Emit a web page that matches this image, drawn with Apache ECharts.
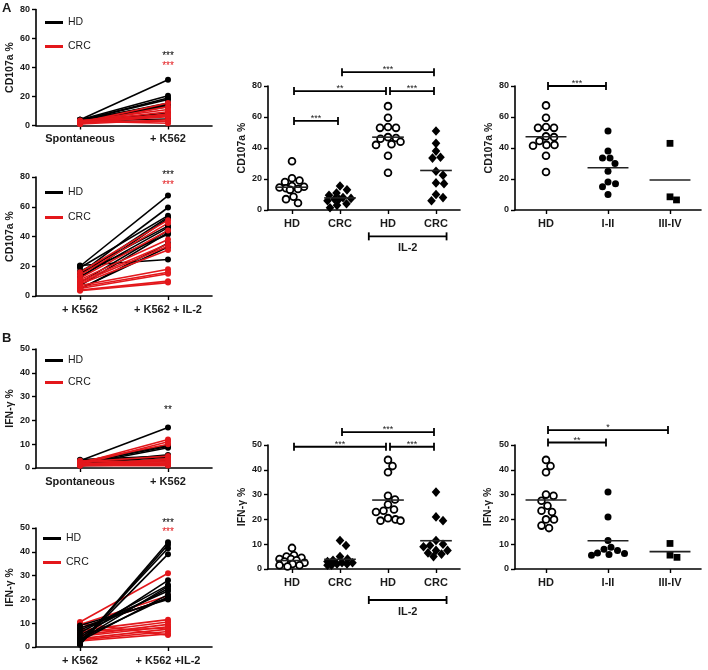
<!DOCTYPE html>
<html><head><meta charset="utf-8">
<script src="https://cdn.jsdelivr.net/npm/echarts@6/dist/echarts.min.js"></script>
<style>html,body{margin:0;padding:0;background:#fff}#c{width:708px;height:670px}</style>
</head><body><div id="c"></div>
<script>
// ---------- categories ----------
const a1Cats = ['Spontaneous', '+ K562'];
const a2Cats = ['+ K562', '+ K562 + IL-2'];
const b1Cats = ['Spontaneous', '+ K562'];
const b2Cats = ['+ K562', '+ K562 +IL-2'];
const midCats = ['HD', 'CRC', 'HD', 'CRC'];
const stageCats = ['HD', 'I-II', 'III-IV'];
const seriesNames = ['HD', 'CRC'];

// ---------- A1: CD107a spontaneous -> K562 (paired) ----------
const a1HdSpont = [4, 4, 3.5, 3.5, 3, 3, 4, 3, 2.5, 3, 3.5, 4, 3];
const a1HdK562  = [31.5, 20.5, 19, 18, 15.5, 15, 14.5, 14, 13.5, 13, 8.5, 7, 4.5];
const a1CrcSpont = [2, 1.5, 3, 2.5, 1, 2, 3.5, 1.5, 2, 1, 2.5, 3];
const a1CrcK562  = [15.5, 13, 11, 9.5, 8, 7.5, 7, 7, 6, 4, 3, 1.5];
const a1Stars = [[1, 47.8], [1, 40.9]];
const a1StarLabels = ['***', '***'];

// ---------- A2: CD107a K562 -> K562 + IL-2 (paired) ----------
const a2HdLeft  = [20, 15, 19, 14, 16.5, 13, 9, 7, 4.5, 20.5, 12, 5, 15.5];
const a2HdRight = [67.5, 59.5, 54, 53, 47, 46, 44, 42.5, 35.5, 24.5, 52, 33, 41.5];
const a2CrcLeft  = [16, 14, 12, 11, 10, 9, 8, 7, 6, 5, 4, 3.5];
const a2CrcRight = [51, 49, 44, 38, 35, 33.5, 31, 18, 16, 15, 10, 9];
const a2Stars = [[1, 81.3], [1, 74.6]];
const a2StarLabels = ['***', '***'];

// ---------- B1: IFN-g spontaneous -> K562 (paired) ----------
const b1HdSpont = [3, 2.5, 2, 1.5, 2, 3.5, 1, 2, 2.5, 1.5, 3, 1, 2];
const b1HdK562  = [17, 9.5, 9, 8.5, 5.5, 5, 4, 4.5, 3, 2, 1.5, 1.5, 5];
const b1CrcSpont = [2, 1.5, 2.5, 1, 3, 2, 1.5, 1, 2.5, 1.5, 2, 1];
const b1CrcK562  = [12, 11, 10, 3, 2.5, 2, 1.5, 4, 5, 3.5, 2, 1];
const b1Stars = [[1, 24.3]];
const b1StarLabels = ['**'];

// ---------- B2: IFN-g K562 -> K562 + IL-2 (paired) ----------
const b2HdLeft  = [1, 2, 1.5, 4, 3, 5, 7, 9, 2.5, 6, 8, 3.5, 1];
const b2HdRight = [44, 41.5, 39, 28, 25.5, 24.5, 23.5, 20, 22, 26, 20.5, 21, 43];
const b2CrcLeft  = [10.5, 9.5, 8, 7, 6, 5, 4.5, 3.5, 3, 2.5, 10, 6.5];
const b2CrcRight = [31, 21.5, 20.5, 11.5, 10.5, 9.5, 8.5, 7.5, 6.5, 5.5, 5, 8];
const b2Stars = [[1, 52], [1, 48.3]];
const b2StarLabels = ['***', '***'];

// ---------- A3: CD107a HD / CRC, with and without IL-2 ----------
const a3Hd     = [31.5, 20.5, 19, 18, 15.5, 15, 14.5, 14, 13.5, 13, 8.5, 7, 4.5];
const a3Crc    = [15.5, 13, 11, 9.5, 8, 7.5, 7, 7, 6, 4, 3, 1.5];
const a3HdIl2  = [67, 59.5, 53.5, 53, 53, 47, 46.5, 46, 44, 42.5, 42, 35, 24];
const a3CrcIl2 = [51, 43, 38, 34, 33.5, 25, 22.5, 17.5, 17, 10, 8, 6];
const a3Means  = [14.7, 7.8, 47, 25.5];
const a3Brackets = [[0, 1, 57.5], [0, 2, 76.7], [2, 3, 76.7], [1, 3, 88.9]];
const a3BracketLabels = ['***', '**', '***', '***'];
const a3Group = [[2, 3, -17]];
const a3GroupLabels = ['IL-2'];

// ---------- A4: CD107a by stage ----------
const a4Hd    = [67.5, 59.5, 53.5, 53, 53, 47.5, 47, 44.5, 42, 42, 41.5, 35, 24.5];
const a4Early = [51, 38, 33.5, 33.5, 30, 25, 18, 17, 15, 10];
const a4Late  = [43, 6.5, 8.5];
const a4Means = [47.3, 27.3, 19.4];
const a4Brackets = [[0, 1, 80]];
const a4BracketLabels = ['***'];

// ---------- B3: IFN-g HD / CRC, with and without IL-2 ----------
const b3Hd     = [8.5, 5.5, 5, 4.5, 4, 4, 3.5, 3, 2.5, 2, 1.5, 1.5, 1];
const b3Crc    = [11.5, 9.5, 5, 4, 3.5, 3, 2.5, 2.5, 2, 2, 1.5, 1.5];
const b3HdIl2  = [44, 41.5, 39, 29.5, 28, 26, 24, 23.5, 23, 20.5, 20, 19.5, 19.5];
const b3CrcIl2 = [31, 21, 19.5, 11.5, 10, 9.5, 9, 7.5, 7.5, 6.5, 6, 5];
const b3Means  = [3.4, 3.9, 27.8, 11.4];
const b3Brackets = [[0, 2, 49.3], [2, 3, 49.3], [1, 3, 55.2]];
const b3BracketLabels = ['***', '***', '***'];
const b3Group = [[2, 3, -12.5]];
const b3GroupLabels = ['IL-2'];

// ---------- B4: IFN-g by stage ----------
const b4Hd    = [44, 41.5, 39, 30, 29.5, 27.5, 25.5, 23.5, 23, 20, 20, 17.5, 16.5];
const b4Early = [31, 21, 11.5, 8.8, 8, 7.5, 6.5, 6.3, 5.8, 5.5];
const b4Late  = [10.3, 5.6, 4.7];
const b4Means = [27.8, 11.4, 7];
const b4Brackets = [[0, 2, 56], [0, 1, 51]];
const b4BracketLabels = ['*', '**'];

// ================= rendering =================
const FONT = '"Liberation Sans", Arial, sans-serif';
const BLACK = '#000';
const RED = '#e3171b';
const TXT = '#1a1a1a';

const grids = [
  {left: 36, top: 9.5, width: 176, height: 116},   // 0 A1
  {left: 36, top: 177, width: 176, height: 119},   // 1 A2
  {left: 36, top: 349, width: 176, height: 119},   // 2 B1
  {left: 36, top: 528, width: 176, height: 119},   // 3 B2
  {left: 268, top: 86, width: 192, height: 124},   // 4 A3
  {left: 515, top: 86, width: 186, height: 124},   // 5 A4
  {left: 268, top: 445, width: 192, height: 124},  // 6 B3
  {left: 515, top: 445, width: 186, height: 124}   // 7 B4
].map(g => Object.assign({outerBoundsMode: 'none', containLabel: false}, g));

function yAx(g, max, interval, name, gap) {
  return {
    type: 'value', gridIndex: g, min: 0, max: max, interval: interval,
    name: name, nameLocation: 'middle', nameRotate: 90, nameGap: gap,
    nameTextStyle: {fontFamily: FONT, fontWeight: 'bold', fontSize: 10.5, color: TXT},
    axisLine: {show: true, lineStyle: {color: BLACK, width: 1.6}},
    axisTick: {show: true, inside: false, length: 4, lineStyle: {color: BLACK, width: 1.4}},
    axisLabel: {fontFamily: FONT, fontWeight: 'bold', fontSize: 9, color: TXT, margin: 6},
    splitLine: {show: false}
  };
}
function xAx(g, cats) {
  return {
    type: 'category', gridIndex: g, data: cats, boundaryGap: true,
    axisLine: {show: true, lineStyle: {color: BLACK, width: 1.6}},
    axisTick: {show: true, alignWithLabel: true, length: 4, lineStyle: {color: BLACK, width: 1.4}},
    axisLabel: {fontFamily: FONT, fontWeight: 'bold', fontSize: 11, color: TXT, margin: 8, interval: 0},
    splitLine: {show: false}
  };
}

function pairSeries(g, name, color, lefts, rights) {
  return lefts.map((l, i) => ({
    type: 'line', name: name, xAxisIndex: g, yAxisIndex: g,
    data: [l, rights[i]], symbol: 'circle', symbolSize: 6, showSymbol: true,
    itemStyle: {color: color}, lineStyle: {color: color, width: 1.6},
    silent: true, animation: false
  }));
}

function textSeries(g, pts, labels, colors) {
  return {
    type: 'custom', xAxisIndex: g, yAxisIndex: g, silent: true, clip: false,
    data: pts,
    renderItem: function (params, api) {
      const p = api.coord([api.value(0), api.value(1)]);
      return {type: 'text', style: {x: p[0], y: p[1], text: labels[params.dataIndex],
        fill: colors[params.dataIndex], fontSize: 10, fontFamily: FONT, align: 'center', verticalAlign: 'middle'}};
    }
  };
}

// bounded beeswarm: points placed as close to centre as possible without overlap,
// within a maximum half-width; when no free slot exists, the least-overlapping slot wins.
function swarm(vals, ppu, d, maxW) {
  const order = vals.map((v, i) => i).sort((a, b) => vals[b] - vals[a]);
  const placed = [], off = [];
  for (const i of order) {
    const y = vals[i] * ppu;
    let best = null, bestC = 0, bestScore = -1;
    for (let k = 0; k * 0.5 <= maxW; k++) {
      const cands = k === 0 ? [0] : [k * 0.5, -k * 0.5];
      for (const c of cands) {
        let md = Infinity;
        for (const p of placed) {
          const dd = Math.sqrt((p.x - c) * (p.x - c) + (p.y - y) * (p.y - y));
          if (dd < md) md = dd;
        }
        if (md >= d) { best = c; break; }
        if (md > bestScore + 0.01) { bestScore = md; bestC = c; }
      }
      if (best !== null) break;
    }
    const x = best !== null ? best : bestC;
    placed.push({x: x, y: y}); off[i] = x;
  }
  return off;
}

const SHAPE_D = {open: 7.6, diamond: 7.6, dot: 7.2, square: 7.2};
function swarmSeries(g, cat, vals, shape) {
  let cache = null;
  return {
    type: 'custom', xAxisIndex: g, yAxisIndex: g, silent: true, clip: false,
    data: vals.map(v => [cat, v]),
    renderItem: function (params, api) {
      const ppu = api.size([0, 1])[1];
      const bw = api.size([1, 0])[0];
      if (!cache || cache.ppu !== ppu) cache = {ppu: ppu, off: swarm(vals, ppu, SHAPE_D[shape], bw * 0.27)};
      const p = api.coord([api.value(0), api.value(1)]);
      const x = p[0] + cache.off[params.dataIndex], y = p[1];
      if (shape === 'open') return {type: 'circle', shape: {cx: x, cy: y, r: 3.4}, style: {fill: '#fff', stroke: BLACK, lineWidth: 1.8}};
      if (shape === 'diamond') return {type: 'polygon', shape: {points: [[x, y - 4.8], [x + 4.3, y], [x, y + 4.8], [x - 4.3, y]]}, style: {fill: BLACK}};
      if (shape === 'dot') return {type: 'circle', shape: {cx: x, cy: y, r: 3.5}, style: {fill: BLACK}};
      return {type: 'rect', shape: {x: x - 3.4, y: y - 3.4, width: 6.8, height: 6.8}, style: {fill: BLACK}};
    }
  };
}

function meanSeries(g, means) {
  return {
    type: 'custom', xAxisIndex: g, yAxisIndex: g, silent: true, clip: false,
    data: means.map((m, i) => [i, m]),
    renderItem: function (params, api) {
      const p = api.coord([api.value(0), api.value(1)]);
      const hw = api.size([1, 0])[0] * 0.33;
      return {type: 'line', shape: {x1: p[0] - hw, y1: p[1], x2: p[0] + hw, y2: p[1]}, style: {stroke: '#222', lineWidth: 1.6}};
    }
  };
}

function bracketSeries(g, br, labels) {
  return {
    type: 'custom', xAxisIndex: g, yAxisIndex: g, silent: true, clip: false,
    data: br,
    renderItem: function (params, api) {
      const a = api.coord([api.value(0), api.value(2)]);
      const b = api.coord([api.value(1), api.value(2)]);
      const x1 = a[0] + 2, x2 = b[0] - 2, y = a[1];
      const st = {stroke: BLACK, lineWidth: 1.8};
      return {type: 'group', children: [
        {type: 'line', shape: {x1: x1, y1: y, x2: x2, y2: y}, style: st},
        {type: 'line', shape: {x1: x1, y1: y - 4, x2: x1, y2: y + 4}, style: st},
        {type: 'line', shape: {x1: x2, y1: y - 4, x2: x2, y2: y + 4}, style: st},
        {type: 'text', style: {x: (x1 + x2) / 2, y: y - 2.5, text: labels[params.dataIndex], fill: TXT,
          fontSize: 9, fontFamily: FONT, align: 'center', verticalAlign: 'middle'}}
      ]};
    }
  };
}

function groupSeries(g, br, labels) {
  return {
    type: 'custom', xAxisIndex: g, yAxisIndex: g, silent: true, clip: false,
    data: br,
    renderItem: function (params, api) {
      const bw = api.size([1, 0])[0];
      const a = api.coord([api.value(0), api.value(2)]);
      const b = api.coord([api.value(1), api.value(2)]);
      const x1 = a[0] - bw * 0.4, x2 = b[0] + bw * 0.22, y = a[1];
      const st = {stroke: BLACK, lineWidth: 1.8};
      return {type: 'group', children: [
        {type: 'line', shape: {x1: x1, y1: y, x2: x2, y2: y}, style: st},
        {type: 'line', shape: {x1: x1, y1: y - 4, x2: x1, y2: y + 4}, style: st},
        {type: 'line', shape: {x1: x2, y1: y - 4, x2: x2, y2: y + 4}, style: st},
        {type: 'text', style: {x: (x1 + x2) / 2, y: y + 11.5, text: labels[params.dataIndex], fill: TXT,
          fontSize: 11, fontWeight: 'bold', fontFamily: FONT, align: 'center', verticalAlign: 'middle'}}
      ]};
    }
  };
}

function legendAt(left, top, gap) {
  return {
    left: left, top: top, orient: 'vertical', padding: 0, itemGap: gap,
    itemWidth: 18, itemHeight: 3, icon: 'rect', data: seriesNames, selectedMode: false,
    textStyle: {fontFamily: FONT, fontSize: 10.5, color: TXT}
  };
}

const series = [].concat(
  pairSeries(0, 'HD', BLACK, a1HdSpont, a1HdK562),
  pairSeries(0, 'CRC', RED, a1CrcSpont, a1CrcK562),
  [textSeries(0, a1Stars, a1StarLabels, [BLACK, RED])],
  pairSeries(1, 'HD', BLACK, a2HdLeft, a2HdRight),
  pairSeries(1, 'CRC', RED, a2CrcLeft, a2CrcRight),
  [textSeries(1, a2Stars, a2StarLabels, [BLACK, RED])],
  pairSeries(2, 'HD', BLACK, b1HdSpont, b1HdK562),
  pairSeries(2, 'CRC', RED, b1CrcSpont, b1CrcK562),
  [textSeries(2, b1Stars, b1StarLabels, [BLACK])],
  pairSeries(3, 'CRC', RED, b2CrcLeft, b2CrcRight),
  pairSeries(3, 'HD', BLACK, b2HdLeft, b2HdRight),
  [textSeries(3, b2Stars, b2StarLabels, [BLACK, RED])],
  [
    swarmSeries(4, 0, a3Hd, 'open'), swarmSeries(4, 1, a3Crc, 'diamond'),
    swarmSeries(4, 2, a3HdIl2, 'open'), swarmSeries(4, 3, a3CrcIl2, 'diamond'),
    meanSeries(4, a3Means), bracketSeries(4, a3Brackets, a3BracketLabels), groupSeries(4, a3Group, a3GroupLabels),
    swarmSeries(5, 0, a4Hd, 'open'), swarmSeries(5, 1, a4Early, 'dot'), swarmSeries(5, 2, a4Late, 'square'),
    meanSeries(5, a4Means), bracketSeries(5, a4Brackets, a4BracketLabels),
    swarmSeries(6, 0, b3Hd, 'open'), swarmSeries(6, 1, b3Crc, 'diamond'),
    swarmSeries(6, 2, b3HdIl2, 'open'), swarmSeries(6, 3, b3CrcIl2, 'diamond'),
    meanSeries(6, b3Means), bracketSeries(6, b3Brackets, b3BracketLabels), groupSeries(6, b3Group, b3GroupLabels),
    swarmSeries(7, 0, b4Hd, 'open'), swarmSeries(7, 1, b4Early, 'dot'), swarmSeries(7, 2, b4Late, 'square'),
    meanSeries(7, b4Means), bracketSeries(7, b4Brackets, b4BracketLabels)
  ]
);

const option = {
  animation: false,
  backgroundColor: '#fff',
  textStyle: {fontFamily: FONT},
  title: [
    {text: 'A', left: 2, top: 2, padding: 0, textStyle: {fontFamily: FONT, fontWeight: 'bold', fontSize: 13, color: TXT}},
    {text: 'B', left: 2, top: 332, padding: 0, textStyle: {fontFamily: FONT, fontWeight: 'bold', fontSize: 13, color: TXT}}
  ],
  legend: [legendAt(45, 17, 13), legendAt(45, 187, 14), legendAt(45, 355, 11), legendAt(43, 533, 13)],
  grid: grids,
  xAxis: [xAx(0, a1Cats), xAx(1, a2Cats), xAx(2, b1Cats), xAx(3, b2Cats),
          xAx(4, midCats), xAx(5, stageCats), xAx(6, midCats), xAx(7, stageCats)],
  yAxis: [yAx(0, 80, 20, 'CD107a %', 19), yAx(1, 80, 20, 'CD107a %', 19),
          yAx(2, 50, 10, 'IFN-γ %', 19), yAx(3, 50, 10, 'IFN-γ %', 19),
          yAx(4, 80, 20, 'CD107a %', 17), yAx(5, 80, 20, 'CD107a %', 20),
          yAx(6, 50, 10, 'IFN-γ %', 18), yAx(7, 50, 10, 'IFN-γ %', 21)],
  series: series
};

const chart = echarts.init(document.getElementById('c'), null, {renderer: 'canvas'});
chart.setOption(option);
</script>
</body></html>
